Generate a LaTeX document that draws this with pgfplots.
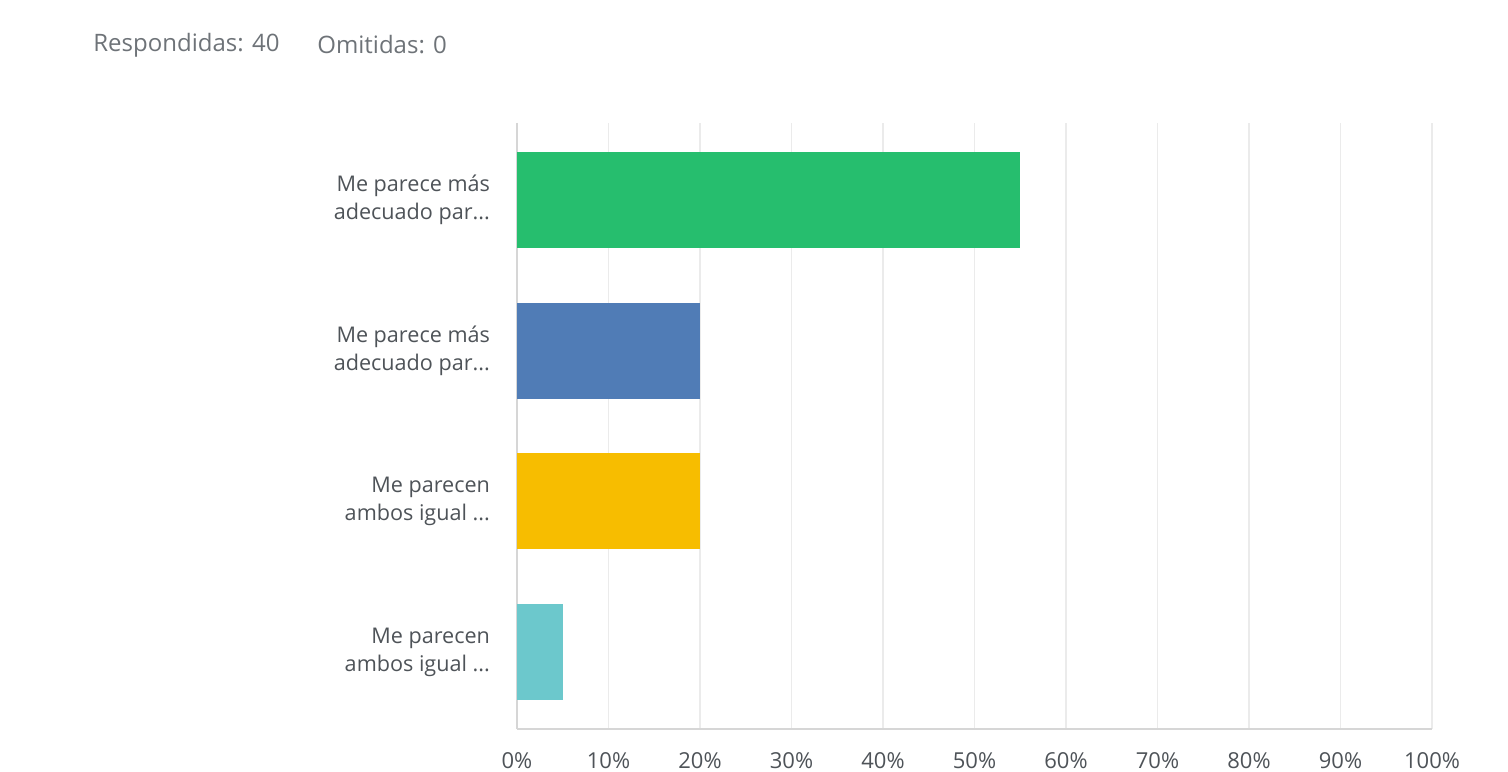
\documentclass[border=0pt]{standalone}
\usepackage{pgfplots}
\pgfplotsset{compat=1.18}
\usepackage{fontspec}
\setmainfont{Open Sans}

\definecolor{cGreen}{HTML}{26BE6E}
\definecolor{cBlue}{HTML}{507CB6}
\definecolor{cYellow}{HTML}{F7BD00}
\definecolor{cTeal}{HTML}{6CC8CC}
\definecolor{gridc}{HTML}{EBEBEB}
\definecolor{axisc}{HTML}{D6D6D6}
\definecolor{txt}{HTML}{4E5358}
\definecolor{hdr}{HTML}{6E7378}
% three dots hidden from pgffor's "..." parsing
\newcommand{\ddd}{...}

\begin{document}
\begin{tikzpicture}[font=\fontsize{11}{13.5}\selectfont]
% page frame, 1 px = 0.5 pt
\path[use as bounding box] (0,0) rectangle (754pt,385.5pt);
\node[anchor=west, text=hdr, inner sep=0pt, font=\fontsize{12}{14}\selectfont] at (46.5pt,363pt) {Respondidas: 40};
\node[anchor=west, text=hdr, inner sep=0pt, font=\fontsize{12}{14}\selectfont] at (158.5pt,363pt) {Omitidas: 0};

\begin{axis}[
  at={(258.5pt,21pt)}, anchor=south west,
  scale only axis,
  width=457.5pt, height=303pt,
  xbar, bar width=48pt, bar shift=0pt,
  xmin=0, xmax=100,
  ymin=-0.51, ymax=3.51,
  y dir=reverse,
  axis lines*=left,
  axis line style={axisc, line width=0.9pt},
  xtick={0,10,20,30,40,50,60,70,80,90,100},
  xticklabels={0\%,10\%,20\%,30\%,40\%,50\%,60\%,70\%,80\%,90\%,100\%},
  xmajorgrids, major grid style={gridc, line width=0.7pt},
  major tick length=0pt,
  xticklabel style={text=txt, yshift=-8pt},
  ytick={0,1,2,3},
  yticklabels={{Me parece más\\adecuado par\ddd},{Me parece más\\adecuado par\ddd},{Me parecen\\ambos igual \ddd},{Me parecen\\ambos igual \ddd}},
  yticklabel style={align=right, text=txt, xshift=-10pt, font=\fontsize{10.8}{14}\selectfont},
  tick style={draw=none},
]
\addplot[fill=cGreen, draw=none] coordinates {(55,0)};
\addplot[fill=cBlue, draw=none] coordinates {(20,1)};
\addplot[fill=cYellow, draw=none] coordinates {(20,2)};
\addplot[fill=cTeal, draw=none] coordinates {(5,3)};
\end{axis}
\end{tikzpicture}
\end{document}
